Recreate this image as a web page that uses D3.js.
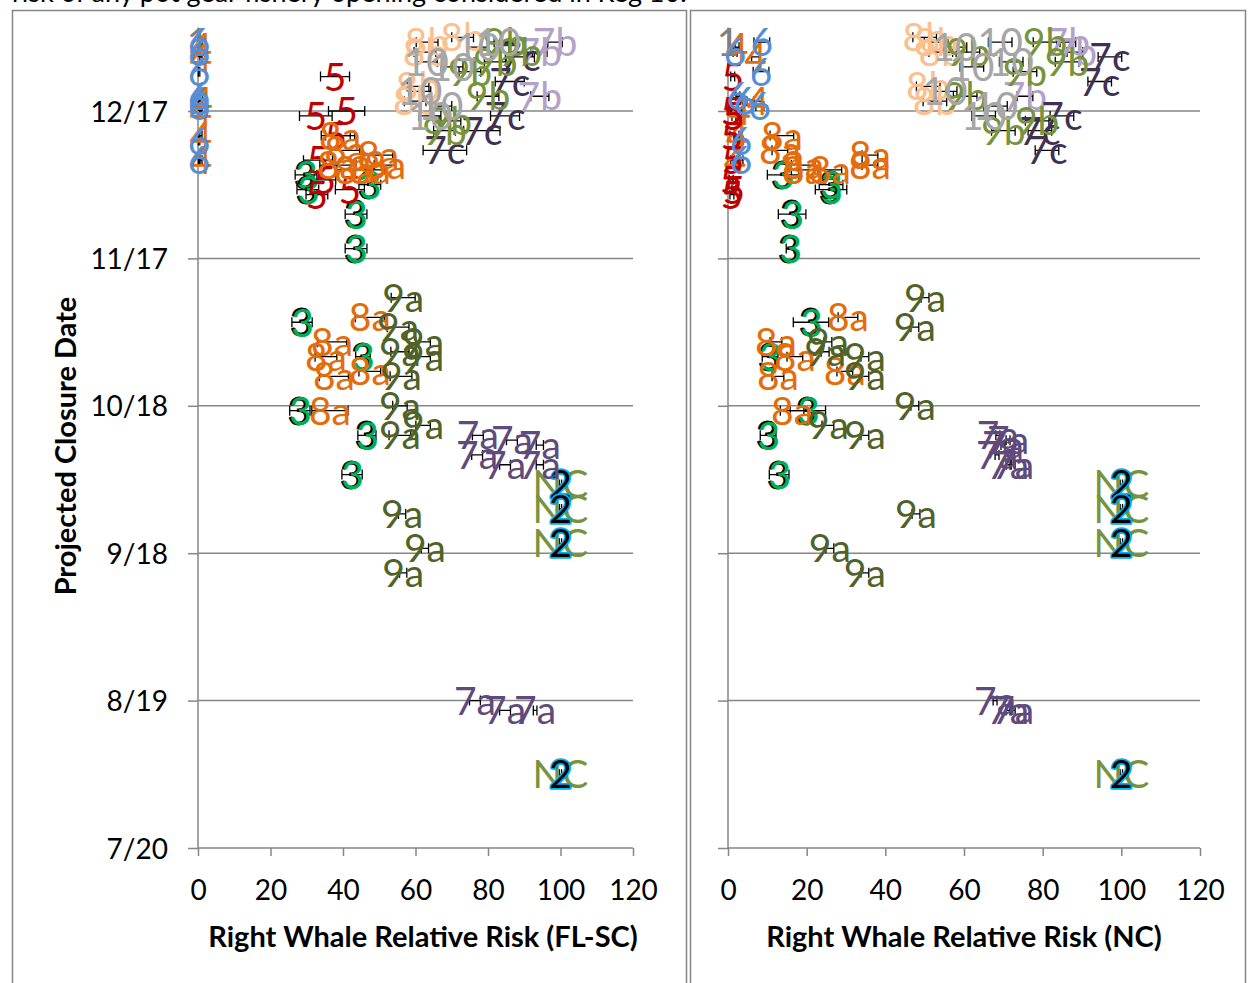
<!DOCTYPE html>
<html><head><meta charset="utf-8">
<script src="https://cdn.jsdelivr.net/npm/d3@7"></script>
<style>
body{margin:0;background:#fff;overflow:hidden;}
svg{display:block;font-family:Lato,'Open Sans',sans-serif;}
</style>
</head><body>
<svg id="c" width="1248" height="983"></svg>
<script>
// ---------------- DATA ----------------
const titleText = "risk of any pot gear fishery opening considered in Reg 10.";
const yTickLabels = ["7/20","8/19","9/18","10/18","11/17","12/17"];
const xTickValues = [0,20,40,60,80,100,120];
const xTitleLeft = "Right Whale Relative Risk (FL-SC)";
const xTitleRight = "Right Whale Relative Risk (NC)";
const yTitle = "Projected Closure Date";

// rows: [closure date, FL-SC risk, FL-SC error, NC risk, NC error]
const s1 = [["12/31",0,0,0,0]];
const sNC = [["10/2",100,0,100,0],["9/27",100,0,100,0],["9/20",100,0,100,0],["8/4",100,0,100,0]];
const s2 = [["10/2",100,0.3,100,0.3],["9/27",100,0.3,100,0.3],["9/20",100,0.3,100,0.3],["8/4",100,0.3,100,0.3]];
const s3 = [["12/4",29.8,3,14.0,4],["12/1",30.3,3,26.2,4],["12/2",47.4,3,26.2,3],["11/26",43.6,3,16.3,3.5],
            ["11/19",43.6,3,15.8,1],["11/4",28.7,2.8,21.1,4.5],["10/28",45.5,2,10.7,2],["10/17",28.1,2.8,20.3,4.5],
            ["10/12",46.6,2.5,10.2,2],["10/4",42.5,2.8,13.0,2.5]];
const s4 = [["12/30",0.8,0.3,2.3,0.5],["12/28",0.8,0.3,7.0,1],["12/19",1.0,0.3,7.6,1],["12/17",0.8,0.3,3.0,0.5],
            ["12/12",0.8,0.3,2.3,0.5],["12/7",0.8,0.3,1.8,0.5]];
const s5 = [["12/24",37.8,4,1.2,0.5],["12/17",41,5,1.0,0.5],["12/16",32.5,4.5,1.5,0.5],["12/12",38,4,1.0,0.5],
            ["12/7",33.1,4,1.2,0.5],["12/3",35,3,0.8,0.5],["12/1",41.9,4,1.5,0.5],["11/30",32.8,3,1.0,0.5]];
const s6 = [["12/31",0.3,0.2,8.6,2],["12/29",0.3,0.2,1.8,0.5],["12/25",0.3,0.2,8.4,2],["12/20",0.3,0.2,2.5,0.5],
            ["12/19",0.3,0.2,4.3,0.5],["12/18",0.3,0.2,8.1,1],["12/11",0.3,0.2,3.3,0.5],["12/7",0.3,0.2,3.3,0.5]];
const s7a = [["10/12",77.2,1.5,68.6,0.5],["10/11",86.6,1.5,71.2,0.5],["10/10",94.3,1,69.9,0.5],["10/8",77.0,1.5,68.4,0.5],
             ["10/6",84.7,1.5,71.2,0.5],["10/6",94.3,1,72.5,0.5],["8/19",76.4,1.5,67.9,0.5],["8/17",84.7,1.5,71.2,0.5],
             ["8/17",93.0,0.5,72.5,0.5]];
const s7b = [["12/31",98.5,2,86.4,2],["12/29",94.3,2,88.2,2],["12/20",94.3,2.5,75.5,2]];
const s7c = [["12/28",88.8,4,97.1,3],["12/23",86.0,4,94.5,3],["12/16",84.7,4,84.9,3],["12/13",78.3,5,79.3,3],
             ["12/9",68.1,6,81.1,3]];
const s8a = [["12/12",39.2,4,13.7,3],["12/9",40.6,4,13.2,2],["12/6",38.6,5,19.1,3],["12/5",43.3,5,19.1,3],
             ["12/5",47.4,4,25.9,3],["12/8",49.7,4,36.1,2],["12/6",51.6,3,36.1,2],["11/5",47.4,4,30.5,2.5],
             ["10/31",37.0,4,12.2,1.5],["10/28",35.3,3,17.0,2],["10/25",47.4,3,29.7,2],["10/24",37.5,4,12.7,1.5],
             ["10/17",36.4,5,16.3,3]];
const s8b = [["1/1",73.0,3,50.0,3],["12/31",63.2,3,52.9,3],["12/29",62.6,3,54.1,3],["12/22",60.7,3,50.9,3],
             ["12/19",59.9,3,52.6,3]];
const s9a = [["11/9",56.6,3.3,50.1,1],["11/3",55.2,3,47.5,1],["10/31",62.1,2,25.4,1],["10/29",55.7,2.5,24.7,1],
             ["10/28",62.1,2,34.8,1],["10/24",56.0,3,34.8,1],["10/18",55.7,2,47.5,1],["10/14",62.1,2,25.4,1.5],
             ["10/12",55.7,3,34.8,1],["9/26",56.3,1,47.8,1],["9/19",62.6,1,25.9,1],["9/14",56.6,1,34.8,1]];
const s9b = [["12/31",84.7,3,80.6,3],["12/29",88.8,3,61.0,3],["12/27",82.0,3,86.2,3],["12/25",75.0,3,75.5,3],
             ["12/20",80.0,3,60.3,3],["12/15",69.5,3,78.6,3],["12/13",68.0,3,70.0,3]];
const s10 = [["12/31",82.8,3,69.2,3],["12/30",77.2,3,57.7,3],["12/27",63.0,3,72.0,3],["12/26",70.1,3,62.0,3],
             ["12/21",61.2,3,55.2,3],["12/18",67.0,3,68.0,3],["12/16",64.0,3,65.0,3]];

const seriesList = [
  {label:"1",  rows:s1,  color:"#7f7f7f"},
  {label:"NC", rows:sNC, color:"#77933c"},
  {label:"2",  rows:s2,  color:"#00b0f0", style:"outline"},
  {label:"3",  rows:s3,  color:"#00b050", style:"shadow"},
  {label:"4",  rows:s4,  color:"#e46c0a"},
  {label:"5",  rows:s5,  color:"#c00000"},
  {label:"6",  rows:s6,  color:"#558ed5"},
  {label:"7a", rows:s7a, color:"#604a7b"},
  {label:"7b", rows:s7b, color:"#b3a2c7"},
  {label:"7c", rows:s7c, color:"#403152"},
  {label:"8b", rows:s8b, color:"#fac090"},
  {label:"8a", rows:s8a, color:"#e46c0a"},
  {label:"9a", rows:s9a, color:"#4f6228"},
  {label:"9b", rows:s9b, color:"#77933c"},
  {label:"10", rows:s10, color:"#a6a6a6"}
];

// ---------------- CHART ----------------
const svg = d3.select("#c");
const GRAY = "#868686";
const parseMD = s => { const [m,d] = s.split("/").map(Number); return new Date(Date.UTC(m>=7?2019:2020, m-1, d)); };

const y = d3.scaleUtc().domain([parseMD("7/20"), parseMD("1/4")]).range([848, 848 - 168*147.4/30]);
const panels = [
  {x: d3.scaleLinear().domain([0,120]).range([198,633]), xi:1, ei:2, title:xTitleLeft, tcx:423, labels:true},
  {x: d3.scaleLinear().domain([0,120]).range([728,1200]), xi:3, ei:4, title:xTitleRight, tcx:964, labels:false}
];

// title (cut off at top)
svg.append("text").attr("x",12).attr("y",2).attr("font-size",27).attr("fill","#000").text(titleText);

// frames
svg.append("rect").attr("x",12.5).attr("y",10.5).attr("width",674).attr("height",1000).attr("fill","none").attr("stroke",GRAY).attr("stroke-width",1.5);
svg.append("rect").attr("x",690.5).attr("y",10.5).attr("width",555).attr("height",1000).attr("fill","none").attr("stroke",GRAY).attr("stroke-width",1.5);

const yTickDates = yTickLabels.map(parseMD);

panels.forEach(p => {
  const g = svg.append("g");
  const [x0,x1] = p.x.range();
  g.selectAll(".grid").data(yTickDates.slice(1)).join("line")
    .attr("x1",x0).attr("x2",x1).attr("y1",d=>y(d)).attr("y2",d=>y(d))
    .attr("stroke",GRAY).attr("stroke-width",1.5);
  const ya = d3.axisLeft(y).tickValues(yTickDates).tickSize(10).tickPadding(20)
    .tickFormat(p.labels ? d3.utcFormat("%-m/%-d") : () => "");
  const yg = g.append("g").attr("transform",`translate(${x0},0)`).call(ya);
  yg.select(".domain").attr("stroke",GRAY).attr("stroke-width",1.5).attr("d",`M0,${y.range()[1]+5}V848`);
  yg.selectAll(".tick line").attr("stroke",GRAY).attr("stroke-width",1.5);
  yg.selectAll(".tick text").attr("font-size",28).attr("fill","#000").attr("font-family","Lato").attr("dy","0.36em");
  const xa = d3.axisBottom(p.x).tickValues(xTickValues).tickSize(8).tickPadding(24).tickFormat(d3.format("d"));
  const xg = g.append("g").attr("transform","translate(0,848)").call(xa);
  xg.select(".domain").attr("stroke",GRAY).attr("stroke-width",1.5).attr("d",`M${x0},0H${x1}`);
  xg.selectAll(".tick line").attr("stroke",GRAY).attr("stroke-width",1.5);
  xg.selectAll(".tick text").attr("font-size",28).attr("fill","#000").attr("font-family","Lato");
  g.append("text").attr("x",p.tcx).attr("y",947).attr("text-anchor","middle")
    .attr("font-size",29).attr("font-weight","bold").attr("fill","#000").text(p.title);
});

svg.append("text").attr("transform","translate(76,446) rotate(-90)").attr("text-anchor","middle")
  .attr("font-size",29).attr("font-weight","bold").attr("fill","#000").text(yTitle);

// error bars
const eb = svg.append("g");
panels.forEach(p => {
  seriesList.forEach(s => {
    s.rows.forEach(r => {
      if (r[p.ei] <= 0) return;
      const cy = y(parseMD(r[0]));
      const lo = p.x(r[p.xi]-r[p.ei]), hi = p.x(r[p.xi]+r[p.ei]);
      eb.append("path").attr("d",`M${lo},${cy}H${hi}M${lo},${cy-5}V${cy+5}M${hi},${cy-5}V${cy+5}`)
        .attr("stroke","#000").attr("stroke-width",1.3).attr("fill","none");
    });
  });
});

// data labels
const LFS = 39;
const lg = svg.append("g").attr("font-size",LFS).attr("text-anchor","middle");
panels.forEach(p => {
  seriesList.forEach(s => {
    s.rows.forEach(r => {
      const cx = p.x(r[p.xi]), cy = y(parseMD(r[0]));
      if (s.style === "outline") {
        lg.append("text").attr("x",cx).attr("y",cy).attr("dy","0.36em").text(s.label)
          .attr("fill","#000").attr("stroke",s.color).attr("stroke-width",3.5)
          .attr("paint-order","stroke").attr("stroke-linejoin","round");
      } else if (s.style === "shadow") {
        lg.append("text").attr("x",cx-1).attr("y",cy).attr("dy","0.36em").text(s.label)
          .attr("fill","#000").attr("stroke","#000").attr("stroke-width",0.8);
        lg.append("text").attr("x",cx+0.6).attr("y",cy+0.4).attr("dy","0.36em").text(s.label)
          .attr("fill",s.color);
      } else {
        lg.append("text").attr("x",cx).attr("y",cy).attr("dy","0.36em").text(s.label).attr("fill",s.color);
      }
    });
  });
});
</script>
</body></html>
